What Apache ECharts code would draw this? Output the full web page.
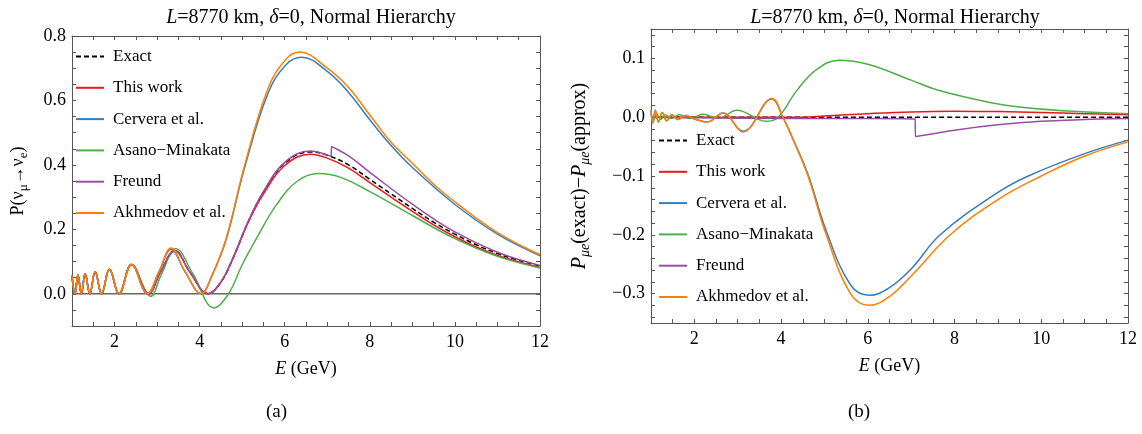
<!DOCTYPE html>
<html>
<head>
<meta charset="utf-8">
<script src="https://cdn.jsdelivr.net/npm/echarts@6/dist/echarts.min.js"></script>
<style>
html,body{margin:0;padding:0;background:#fff;}
#chart{width:1142px;height:434px;}
</style>
</head>
<body>
<div id="chart"></div>
<script>
// L=8770 km, delta=0, NH : (a) probabilities, (b) exact minus approx
var seriesNames = ['Exact', 'This work', 'Cervera et al.', 'Asano\u2212Minakata', 'Freund', 'Akhmedov et al.'];
var seriesColors = ['#000000', '#e41a1c', '#377eb8', '#4daf4a', '#984ea3', '#ff7f00'];

// shared fast oscillations below 2.7 GeV (all curves coincide there)
var lowE = [[1.0,0.056],[1.07,0],[1.14,0.058],[1.22,0],[1.31,0.062],[1.418,0],[1.545,0.068],[1.695,0],[1.88,0.076],[2.105,0],[2.4,0.091]];

// panel (a)
var exactA = lowE.concat([[2.8,0],[3.08,0.068],[3.42,0.134],[3.77,0.068],[4.2,0],[4.5,0.036],[4.8,0.115],[5.13,0.22],[5.5,0.315],[6.0,0.405],[6.6,0.44],[7.0,0.43],[7.5,0.4],[8.0,0.355],[8.5,0.31],[9.0,0.265],[9.5,0.222],[10.0,0.185],[10.5,0.152],[11.0,0.125],[11.5,0.104],[12.0,0.086]]);
var thisWorkA = lowE.concat([[2.8,0],[3.08,0.067],[3.42,0.133],[3.77,0.067],[4.2,0],[4.5,0.036],[4.8,0.114],[5.13,0.218],[5.5,0.31],[6.0,0.398],[6.6,0.433],[7.0,0.421],[7.5,0.39],[8.0,0.345],[8.5,0.3],[9.0,0.256],[9.5,0.214],[10.0,0.177],[10.5,0.145],[11.0,0.119],[11.5,0.099],[12.0,0.082]]);
var cerveraA = lowE.concat([[2.77,0],[3.05,0.07],[3.33,0.138],[3.65,0.07],[4.04,0],[4.28,0.053],[4.62,0.167],[5.04,0.383],[5.6,0.62],[6.03,0.711],[6.4,0.734],[7.0,0.69],[7.5,0.625],[8.0,0.54],[8.5,0.46],[9.0,0.392],[10.0,0.277],[11.0,0.185],[12.0,0.118]]);
var asanoA = lowE.concat([[2.85,-0.008],[3.1,0.06],[3.44,0.14],[3.85,0.06],[4.34,-0.044],[4.68,0],[5.0,0.09],[5.35,0.175],[5.8,0.275],[6.3,0.35],[6.8,0.373],[7.3,0.362],[8.0,0.317],[9.0,0.243],[10.0,0.171],[11.0,0.116],[12.0,0.08]]);
var freundA = lowE.concat([[2.8,0],[3.08,0.068],[3.42,0.134],[3.77,0.068],[4.2,0],[4.5,0.037],[4.8,0.117],[5.13,0.222],[5.5,0.318],[6.0,0.408],[6.6,0.443],[7.09,0.427],[7.1,0.456],[7.5,0.428],[8.0,0.377],[9.0,0.278],[10.0,0.192],[11.0,0.129],[12.0,0.088]]);
var akhmedovA = lowE.concat([[2.77,0],[3.05,0.071],[3.33,0.142],[3.65,0.071],[4.04,0],[4.28,0.054],[4.62,0.17],[5.04,0.39],[5.6,0.635],[6.03,0.728],[6.35,0.75],[7.0,0.7],[7.5,0.64],[8.0,0.555],[8.5,0.47],[9.0,0.405],[9.5,0.34],[10.0,0.285],[10.5,0.235],[11.0,0.19],[11.5,0.153],[12.0,0.121]]);
var zeroLine = [[1,0],[12,0]];

// panel (b)
var exactB = [[1,0],[12,0]];
var thisWorkB = [[1,0],[4.5,0],[5,0.002],[6,0.006],[7,0.009],[8,0.01],[9,0.0095],[10,0.008],[11,0.006],[12,0.004]];
var cerveraB = [[1.0,0.012],[1.04,-0.01],[1.1,0.012],[1.17,-0.008],[1.26,0.008],[1.36,-0.006],[1.48,0.004],[1.62,-0.004],[1.8,0.003],[2.0,-0.003],[2.3,-0.008],[2.66,0.007],[3.12,-0.024],[3.79,0.031],[4.04,0],[4.28,-0.038],[4.62,-0.097],[5.04,-0.193],[5.6,-0.285],[6.03,-0.303],[6.5,-0.29],[7.0,-0.258],[7.67,-0.2],[9.0,-0.128],[9.7,-0.1],[11.0,-0.062],[12.0,-0.039]];
var asanoB = [[1.0,0.008],[1.06,-0.006],[1.13,0.006],[1.22,-0.004],[1.33,0.004],[1.46,-0.002],[1.65,0.004],[1.9,-0.002],[2.2,0.005],[2.55,-0.002],[2.98,0.012],[3.65,-0.007],[3.93,0],[4.37,0.046],[4.8,0.08],[5.33,0.097],[6.0,0.09],[7.0,0.063],[7.57,0.047],[8.5,0.03],[9.3,0.019],[10.5,0.011],[12.0,0.006]];
var freundB = [[1,0],[2,-0.001],[4,-0.002],[5,-0.002],[6,-0.002],[7.09,-0.003],[7.1,-0.033],[8,-0.022],[9,-0.013],[10,-0.007],[11,-0.004],[12,-0.002]];
var akhmedovB = [[1.0,0.013],[1.04,-0.01],[1.1,0.012],[1.17,-0.008],[1.26,0.008],[1.36,-0.006],[1.48,0.004],[1.62,-0.004],[1.8,0.003],[2.0,-0.003],[2.3,-0.008],[2.66,0.007],[3.12,-0.025],[3.79,0.032],[4.04,0],[4.28,-0.039],[4.62,-0.1],[5.04,-0.2],[5.6,-0.3],[6.03,-0.32],[6.5,-0.305],[7.0,-0.27],[7.9,-0.2],[9.0,-0.14],[10.0,-0.1],[11.0,-0.066],[12.0,-0.042]];

var dataA = [exactA, thisWorkA, cerveraA, asanoA, freundA, akhmedovA];
var dataB = [exactB, thisWorkB, cerveraB, asanoB, freundB, akhmedovB];

var FONT = 'Liberation Serif';
var AXIS_COLOR = '#555';

function isMult(v, step) {
	var q = v / step;
	return Math.abs(q - Math.round(q)) < 1e-6;
}
function fmtNum(v) {
	var s = Math.abs(v).toFixed(1);
	return v < -1e-9 ? '\u2212' + s : s;
}

function xAxisDef(gridIndex, pos, showLabel) {
	return {
		type: 'value', gridIndex: gridIndex, position: pos,
		min: 1, max: 12, interval: 0.5,
		axisLine: {show: true, onZero: false, lineStyle: {color: AXIS_COLOR, width: 1}},
		axisTick: {show: true, inside: true, length: 4, lineStyle: {color: AXIS_COLOR}},
		splitLine: {show: false},
		axisLabel: {
			show: showLabel, color: '#000', fontFamily: FONT, fontSize: 18, margin: 7,
			formatter: function(v) { return (isMult(v, 2)) ? String(Math.round(v)) : ''; }
		},
		name: showLabel ? '{i|E} (GeV)' : '',
		nameLocation: 'middle', nameGap: 34,
		nameTextStyle: {color: '#000', fontFamily: FONT, fontSize: 18,
			rich: {i: {fontStyle: 'italic', fontFamily: FONT, fontSize: 18}}}
	};
}

function yAxisDef(gridIndex, pos, min, max, interval, labelStep, showLabel, showTick) {
	return {
		type: 'value', gridIndex: gridIndex, position: pos,
		min: min, max: max, interval: interval,
		axisLine: {show: true, onZero: false, lineStyle: {color: AXIS_COLOR, width: 1}},
		axisTick: {show: showTick, inside: true, length: 4, lineStyle: {color: AXIS_COLOR}},
		splitLine: {show: false},
		axisLabel: {
			show: showLabel, color: '#000', fontFamily: FONT, fontSize: 18, margin: 6,
			formatter: function(v) { return isMult(v, labelStep) ? fmtNum(v) : ''; }
		}
	};
}

// tick-only axis (panel b minor ticks every 0.02)
function tickAxisDef(gridIndex, pos) {
	return {
		type: 'value', gridIndex: gridIndex, position: pos,
		min: -0.34, max: 0.14, interval: 0.02,
		axisLine: {show: false},
		axisTick: {show: true, inside: true, length: 4, lineStyle: {color: AXIS_COLOR}},
		splitLine: {show: false},
		axisLabel: {show: false}
	};
}

var xAxes = [
	xAxisDef(0, 'bottom', true), xAxisDef(0, 'top', false),
	xAxisDef(1, 'bottom', true), xAxisDef(1, 'top', false),
	{type: 'value', gridIndex: 2, min: 1, max: 12, show: false}
];
var yA = yAxisDef(0, 'left', -0.1, 0.8, 0.05, 0.2, true, true);
yA.name = 'P(\u03bd{s|\u03bc}\u2192\u03bd{s|e})';
yA.nameLocation = 'middle';
yA.nameGap = 42;
yA.nameRotate = 90;
yA.nameTextStyle = {color: '#000', fontFamily: FONT, fontSize: 18,
	rich: {s: {fontFamily: FONT, fontSize: 13, padding: [10, 0, 0, 0]}}};
var yB = yAxisDef(1, 'left', -0.35, 0.15, 0.05, 0.1, true, false);
yB.name = '{i|P}{s|\u03bce}(exact)\u2212{i|P}{s|\u03bce}(approx)';
yB.nameLocation = 'middle';
yB.nameGap = 59;
yB.nameRotate = 90;
yB.nameTextStyle = {color: '#000', fontFamily: FONT, fontSize: 20,
	rich: {
		i: {fontStyle: 'italic', fontFamily: FONT, fontSize: 20},
		s: {fontStyle: 'italic', fontFamily: FONT, fontSize: 14, padding: [10, 0, 0, 0]}
	}};
var yAxes = [
	yA, yAxisDef(0, 'right', -0.1, 0.8, 0.05, 0.2, false, true),
	yB, yAxisDef(1, 'right', -0.35, 0.15, 0.05, 0.1, false, false),
	tickAxisDef(2, 'left'), tickAxisDef(2, 'right')
];

var series = [];
series.push({
	name: 'zero', type: 'line', xAxisIndex: 0, yAxisIndex: 0, data: zeroLine,
	symbol: 'none', silent: true, lineStyle: {color: '#666', width: 1.5}, z: 1
});
for (var i = 0; i < seriesNames.length; i++) {
	var ls = {color: seriesColors[i], width: 1.5};
	if (i === 0) { ls.type = [5, 3]; }
	series.push({
		name: seriesNames[i], type: 'line', xAxisIndex: 0, yAxisIndex: 0,
		data: dataA[i], symbol: 'none', smooth: 0.4,
		color: seriesColors[i], lineStyle: ls, z: 2 + i
	});
	series.push({
		name: seriesNames[i], type: 'line', xAxisIndex: 2, yAxisIndex: 2,
		data: dataB[i], symbol: 'none', smooth: 0.4,
		color: seriesColors[i], lineStyle: ls, z: 2 + i
	});
}

function legendDef(left, top) {
	return {
		data: seriesNames, left: left, top: top, orient: 'vertical', padding: 0,
		itemWidth: 28, itemHeight: 14, itemGap: 14.3, selectedMode: false,
		itemStyle: {opacity: 0},
		textStyle: {color: '#000', fontFamily: FONT, fontSize: 17, padding: [0, 0, 0, 4]}
	};
}

function titleDef(cx) {
	return {
		text: '{i|L}=8770 km, {i|\u03b4}=0, Normal Hierarchy',
		left: cx, top: 3, textAlign: 'center',
		textStyle: {color: '#000', fontFamily: FONT, fontSize: 20, fontWeight: 'normal',
			rich: {i: {fontStyle: 'italic', fontFamily: FONT, fontSize: 20}}}
	};
}

var chart = echarts.init(document.getElementById('chart'));
chart.setOption({
	animation: false,
	backgroundColor: '#fff',
	title: [titleDef(306), titleDef(890)],
	legend: [legendDef(75, 48), legendDef(658, 132)],
	grid: [
		{left: 72, top: 36, width: 468, height: 290},
		{left: 651, top: 29, width: 477, height: 294},
		{left: 651, top: 34.9, width: 477, height: 282.2}
	],
	xAxis: xAxes,
	yAxis: yAxes,
	series: series,
	graphic: [
		{type: 'text', left: 266, top: 403, style: {text: '(a)', fontFamily: FONT, fontSize: 19, fill: '#000'}},
		{type: 'text', left: 848, top: 403, style: {text: '(b)', fontFamily: FONT, fontSize: 19, fill: '#000'}}
	]
});
</script>
</body>
</html>
